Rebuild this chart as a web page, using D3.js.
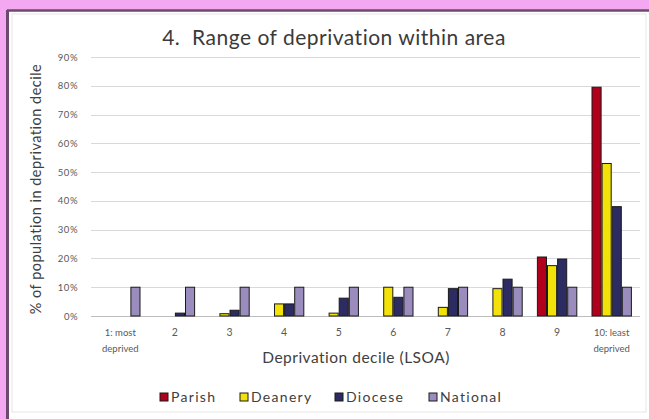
<!DOCTYPE html>
<html><head><meta charset="utf-8">
<script src="https://cdn.jsdelivr.net/npm/d3@7"></script>
<style>
html,body{margin:0;padding:0;background:#f4a8f2;}
svg{display:block;}
text{font-family:"Lato","Open Sans",sans-serif;}
</style></head>
<body>
<svg id="c" width="649" height="419"></svg>
<script>
const categories = ["1: most\ndeprived","2","3","4","5","6","7","8","9","10: least\ndeprived"];
const seriesNames = ["Parish","Deanery","Diocese","National"];
const parish   = [0,0,0,0,0,0,0,0,20.5,79.5];
const deanery  = [0,0,0.8,4.2,1,10,3,9.5,17.5,53];
const diocese  = [0,1,2,4.2,6.2,6.5,9.5,12.8,19.8,38];
const national = [10,10,10,10,10,10,10,10,10,10];
const colors = ["#b0001c","#f2e20a","#2c2b62","#9a8cbc"];
const yTicks = [0,10,20,30,40,50,60,70,80,90];

const svg = d3.select("#c");
// panel
svg.append("rect").attr("x",7).attr("y",10).attr("width",660).attr("height",430)
  .attr("fill","#ffffff");
svg.append("line").attr("x1",7.5).attr("x2",7.5).attr("y1",10).attr("y2",419)
  .attr("stroke","#6b4a6e").attr("stroke-width",3);
svg.append("line").attr("x1",7).attr("x2",649).attr("y1",10.5).attr("y2",10.5)
  .attr("stroke","#6b4a6e").attr("stroke-width",2.5);
svg.append("rect").attr("x",12).attr("y",14).attr("width",634).attr("height",398)
  .attr("fill","none").attr("stroke","#e6e6e6").attr("stroke-width",1);

const x0 = d3.scaleBand().domain(d3.range(categories.length)).range([93,639]).paddingInner(0.26).paddingOuter(0.13);
const x1 = d3.scaleBand().domain(seriesNames).range([0,x0.bandwidth()]);
const y = d3.scaleLinear().domain([0,90]).range([316,57]);

// gridlines
svg.append("g").selectAll("line").data(yTicks).join("line")
  .attr("x1",91).attr("x2",640)
  .attr("y1",d=>Math.round(y(d))+0.5).attr("y2",d=>Math.round(y(d))+0.5)
  .attr("stroke",d=>d===0?"#bdbdbd":"#d9d9d9").attr("stroke-width",1);

// y axis labels
const yAxis = d3.axisLeft(y).tickValues(yTicks).tickFormat(d=>d+"%").tickSize(0).tickPadding(0);
const ya = svg.append("g").attr("transform","translate(78,0)").call(yAxis);
ya.select(".domain").remove();
ya.selectAll("text").attr("font-size",9.5).attr("letter-spacing",0.5).attr("fill","#595959").attr("font-family","Lato, sans-serif");

// bars
const seriesData = [parish,deanery,diocese,national];
seriesData.forEach((vals,si)=>{
  svg.append("g").selectAll("rect").data(vals.map((v,i)=>({v,i}))).join("rect")
    .filter(d=>d.v>0)
    .attr("x",d=>x0(d.i)+x1(seriesNames[si])+0.5)
    .attr("y",d=>y(d.v))
    .attr("width",x1.bandwidth()-1)
    .attr("height",d=>y(0)-y(d.v))
    .attr("fill",colors[si])
    .attr("stroke","#1a1a1a").attr("stroke-width",1);
});

// x labels
const xl = svg.append("g");
categories.forEach((c,i)=>{
  const lines = c.split("\n");
  const t = xl.append("text").attr("x",x0(i)+x0.bandwidth()/2).attr("y",336)
    .attr("text-anchor","middle").attr("font-size",lines.length>1?9.5:10.5).attr("fill","#595959");
  lines.forEach((l,k)=>t.append("tspan").attr("x",x0(i)+x0.bandwidth()/2).attr("dy",k===0?0:16).text(l));
});

// titles
svg.append("text").attr("x",334).attr("y",45).attr("text-anchor","middle")
  .attr("font-size",21).attr("letter-spacing",0.5).attr("fill","#3a3a3a").text("4.\u00a0 Range of deprivation within area");
svg.append("text").attr("x",356).attr("y",363).attr("text-anchor","middle")
  .attr("font-size",15.5).attr("letter-spacing",0.5).attr("fill","#404040").text("Deprivation decile (LSOA)");
svg.append("text").attr("transform","translate(41,189) rotate(-90)").attr("text-anchor","middle")
  .attr("font-size",14.5).attr("letter-spacing",0.5).attr("fill","#404040").text("% of population in deprivation decile");

// legend
const legX = [160,240,335,429];
const lg = svg.append("g");
seriesNames.forEach((n,i)=>{
  lg.append("rect").attr("x",legX[i]).attr("y",393).attr("width",8).attr("height",8)
    .attr("fill",colors[i]).attr("stroke","#1a1a1a").attr("stroke-width",1);
  lg.append("text").attr("x",legX[i]+11).attr("y",402).attr("font-size",14).attr("letter-spacing",1.3).attr("fill","#404040").text(n);
});
</script>
</body></html>
